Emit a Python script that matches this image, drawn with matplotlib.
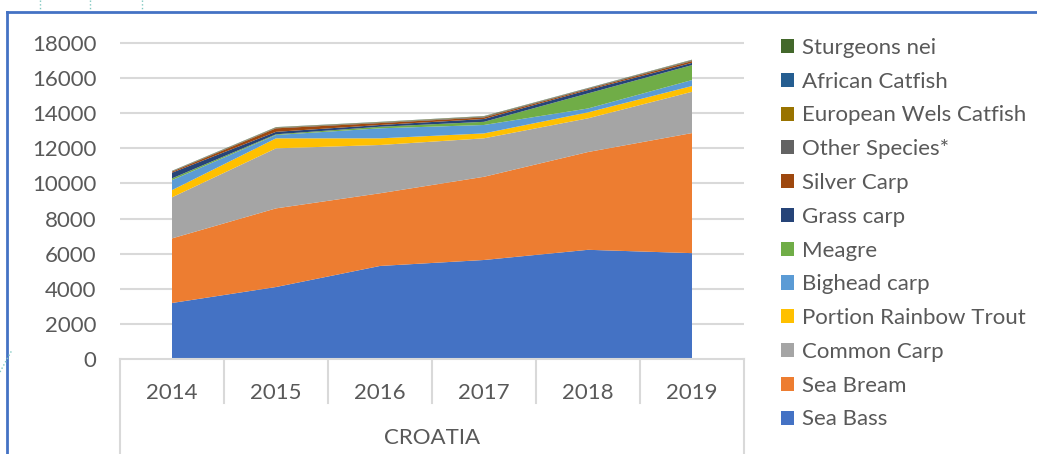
import matplotlib
matplotlib.use("Agg")
import matplotlib.pyplot as plt
from matplotlib.lines import Line2D
from matplotlib.patches import Patch
import numpy as np

plt.rcParams["font.family"] = ["Lato", "DejaVu Sans"]

# Production (tonnes) by species, Croatia
years = ["2014", "2015", "2016", "2017", "2018", "2019"]
sea_bass = [3190, 4100, 5300, 5640, 6220, 6030]
sea_bream = [3680, 4480, 4140, 4740, 5570, 6840]
common_carp = [2340, 3420, 2750, 2190, 1920, 2350]
rainbow_trout = [410, 570, 380, 280, 340, 330]
bighead_carp = [570, 190, 570, 480, 220, 340]
meagre = [100, 40, 90, 180, 860, 850]
grass_carp = [320, 140, 100, 160, 190, 130]
silver_carp = [60, 200, 110, 90, 60, 100]
other_species = [20, 30, 30, 40, 30, 40]
wels_catfish = [10, 20, 20, 20, 10, 20]
african_catfish = [10, 10, 10, 10, 10, 10]
sturgeons = [10, 10, 10, 10, 10, 10]

series = [sea_bass, sea_bream, common_carp, rainbow_trout, bighead_carp, meagre,
          grass_carp, silver_carp, other_species, wels_catfish, african_catfish, sturgeons]
labels = ["Sea Bass", "Sea Bream", "Common Carp", "Portion Rainbow Trout", "Bighead carp",
          "Meagre", "Grass carp", "Silver Carp", "Other Species*", "European Wels Catfish",
          "African Catfish", "Sturgeons nei"]
colors = ["#4472C4", "#ED7D31", "#A5A5A5", "#FFC000", "#5B9BD5", "#70AD47",
          "#264478", "#9E480E", "#636363", "#997300", "#255E91", "#43682B"]

W, H = 1037, 454
fig = plt.figure(figsize=(W / 100, H / 100), dpi=100)
txt = "#595959"
grid_c = "#D9D9D9"
fs = 16

# plot area in pixels
x0, x1, ytop, ybot = 120, 744, 43, 359
ax = fig.add_axes([x0 / W, (H - ybot) / H, (x1 - x0) / W, (ybot - ytop) / H])

x = np.arange(len(years))
ax.stackplot(x, *series, colors=colors, linewidth=0, zorder=3)

ax.set_xlim(-0.5, len(years) - 0.5)
ax.set_ylim(0, 18000)
ax.set_yticks(np.arange(0, 18001, 2000))
ax.tick_params(axis="y", length=0, pad=17, labelsize=fs, labelcolor=txt)
ax.hlines(np.arange(2000, 18001, 2000), -0.5, len(years) - 0.5, colors=grid_c,
          linewidth=1.5, clip_on=False, zorder=1)
for s in ax.spines.values():
    s.set_visible(False)
ax.axhline(0, color=grid_c, linewidth=1.5, zorder=4, clip_on=False)

# category axis
ax.set_xticks(x)
ax.set_xticklabels(years)
ax.tick_params(axis="x", length=0, pad=17, labelsize=fs, labelcolor=txt)
tr = ax.get_xaxis_transform()
ph = ybot - ytop
for b in np.arange(-0.5, len(years), 1.0):
    outer = b in (-0.5, len(years) - 0.5)
    ylow = -(H - ybot) / ph if outer else -(403 - ybot) / ph
    ax.plot([b, b], [0, ylow], color=grid_c, linewidth=1.5, transform=tr, clip_on=False)
ax.text((len(years) - 1) / 2, -(438 - ybot) / ph, "CROATIA", transform=tr,
        ha="center", va="center", fontsize=fs, color=txt)

# legend
handles = [Patch(facecolor=c, edgecolor="none") for c in colors][::-1]
leg = fig.legend(handles, labels[::-1], loc="upper left", bbox_to_anchor=(772 / W, 1 - 29 / H),
                 frameon=False, fontsize=fs, labelcolor=txt, handlelength=0.6,
                 handleheight=0.6, handletextpad=0.35, labelspacing=0.62, borderaxespad=0)

# selection frame and stray dotted marks
fig.add_artist(Line2D([7 / W, 1], [1 - 12 / H, 1 - 12 / H], color="#4472C4", linewidth=2))
fig.add_artist(Line2D([7 / W, 7 / W], [0, 1 - 12 / H], color="#4472C4", linewidth=2))
for xd in (40, 90, 142):
    fig.add_artist(Line2D([xd / W, xd / W], [1, 1 - 11 / H], color="#7FC8C0",
                          linewidth=1, linestyle=":"))
fig.add_artist(Line2D([0, 12 / W], [1 - 372 / H, 1 - 350 / H], color="#7FC8C0",
                      linewidth=1, linestyle=":"))

fig.savefig("out.png", dpi=100)
